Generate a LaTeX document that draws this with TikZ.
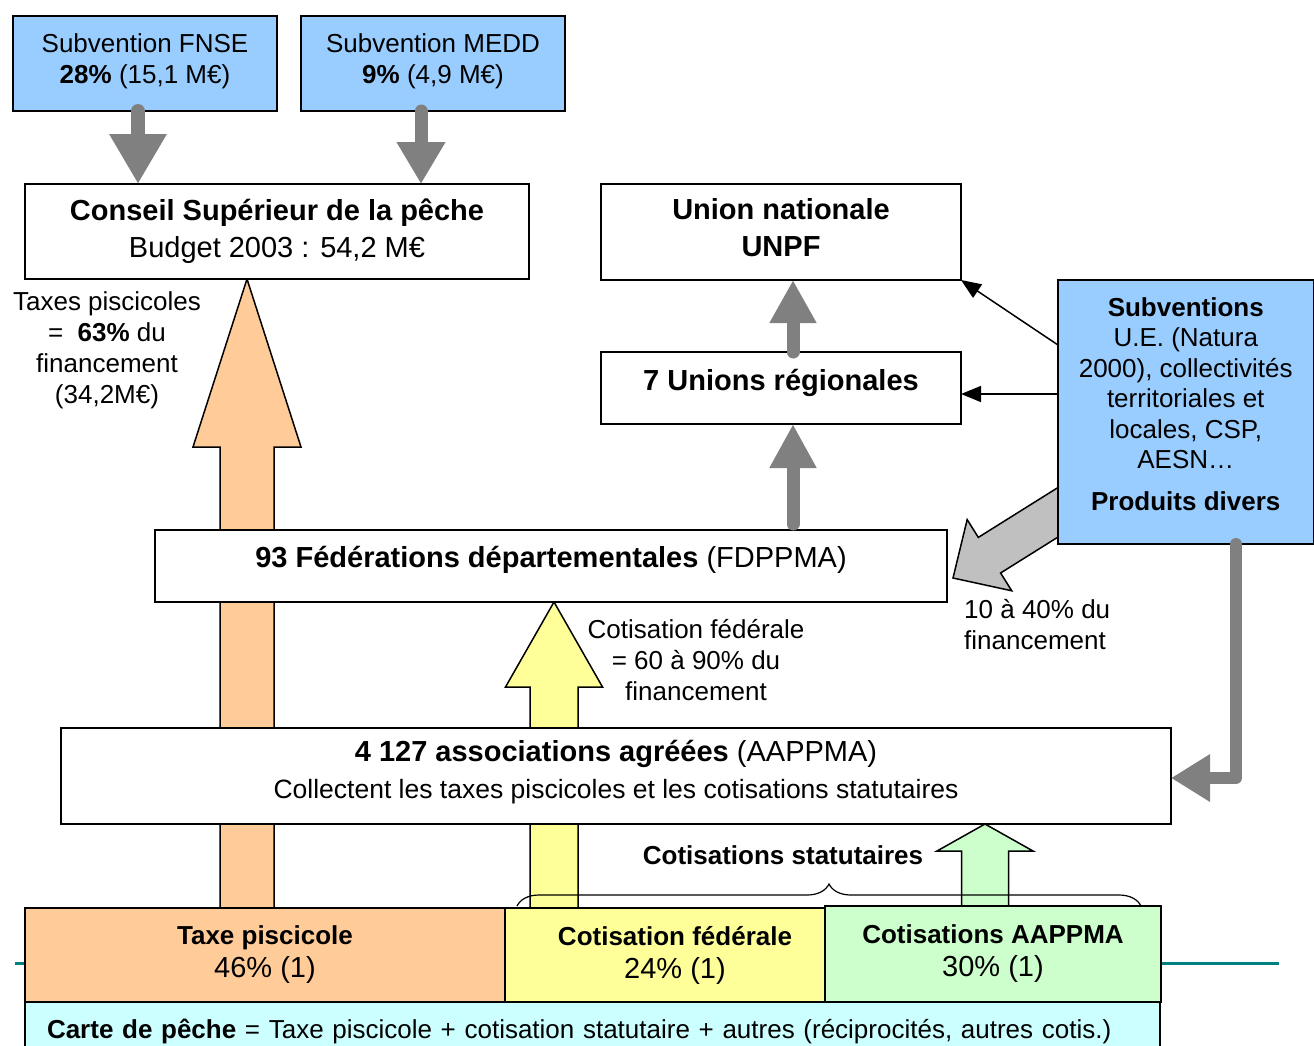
\documentclass[tikz,border=0pt]{standalone}
\usepackage{fontspec}
\setmainfont{Liberation Sans}
\usetikzlibrary{arrows.meta,positioning,calc,backgrounds,decorations.pathreplacing}

\definecolor{subblue}{HTML}{99CCFF}
\definecolor{taxorange}{HTML}{FFCC99}
\definecolor{fedyellow}{HTML}{FFFF99}
\definecolor{aapgreen}{HTML}{CCFFCC}
\definecolor{cartecyan}{HTML}{CCFFFF}
\definecolor{arrowgray}{HTML}{808080}
\definecolor{paleGray}{HTML}{C0C0C0}
\definecolor{tealline}{HTML}{008080}

\newcommand\txtsize{\fontsize{26}{31}\selectfont}
\newcommand\ttlsize{\fontsize{29}{37}\selectfont}

% outlined block arrow: style, from, to, shaft half width, head half width, head length
\newcommand\blockarrow[6]{%
  \coordinate (ba-s) at (#2);
  \coordinate (ba-t) at (#3);
  \coordinate (ba-h) at ($(ba-t)!#6!(ba-s)$);
  \filldraw[#1] ($(ba-s)!#4!90:(ba-t)$) -- ($(ba-h)!#4!90:(ba-t)$)
    -- ($(ba-h)!#5!90:(ba-t)$) -- (ba-t) -- ($(ba-h)!#5!-90:(ba-t)$)
    -- ($(ba-h)!#4!-90:(ba-t)$) -- ($(ba-s)!#4!-90:(ba-t)$) -- cycle;}

\tikzset{
  plainbox/.style={draw, line width=1.5pt, fill=white, align=center,
    inner sep=0pt, outer sep=0pt, font=\txtsize},
  subbox/.style={plainbox, fill=subblue},
  lbl/.style={align=center, inner sep=0pt, font=\txtsize},
  grayarrow/.style={draw=arrowgray, line width=14pt, line cap=round},
  thinarrow/.style={line width=1.5pt, -{Triangle[length=20pt,width=16pt]}},
  blockline/.style={draw=black, line width=1.5pt, line join=miter},
}

\begin{document}
\begin{tikzpicture}[x=1pt,y=-1pt]
\useasboundingbox (0,0) rectangle (1314,1045);

% top
\node[subbox, minimum width=264pt, minimum height=95pt, text depth=10pt] (fnse) at (145,63.5)
  {Subvention FNSE\\\textbf{28\%} (15,1 M€)};
\node[subbox, minimum width=264pt, minimum height=95pt, text depth=10pt] (medd) at (433,63.5)
  {Subvention MEDD\\\textbf{9\%} (4,9 M€)};
\node[plainbox, minimum width=504pt, minimum height=95pt, font=\ttlsize, text depth=6pt] (csp) at (277,231.5)
  {\textbf{Conseil Supérieur de la pêche}\\Budget 2003 : 54,2 M€};
\node[plainbox, minimum width=360pt, minimum height=96pt, font=\ttlsize\bfseries, text depth=10pt] (unpf) at (781,232)
  {Union nationale\\UNPF};
\node[plainbox, minimum width=360pt, minimum height=72pt, font=\ttlsize\bfseries, text depth=16pt] (urs) at (781,388)
  {7 Unions régionales};
\node[subbox, minimum width=255.5pt, minimum height=264pt, font=\fontsize{26}{30.5}\selectfont, text depth=16pt] (subv) at (1185.75,412)
  {\textbf{Subventions}\\U.E. (Natura\\2000), collectivités\\territoriales et\\locales, CSP,\\AESN…\\[11pt]\textbf{Produits divers}};

% middle
\node[plainbox, minimum width=792pt, minimum height=72pt, font=\ttlsize, text depth=18pt] (fdppma) at (551,566)
  {\textbf{93 Fédérations départementales} (FDPPMA)};
\node[plainbox, minimum width=1110pt, minimum height=96pt, font=\ttlsize, text depth=14pt] (aappma) at (616,776)
  {\textbf{4 127 associations agréées} (AAPPMA)\\{\fontsize{26.5}{31}\selectfont Collectent les taxes piscicoles et les cotisations statutaires}};

% bottom
\node[plainbox, fill=taxorange, minimum width=480pt, minimum height=94pt, font=\fontsize{26}{33}\selectfont] (taxe) at (265,955)
  {\textbf{Taxe piscicole}\\{\ttlsize 46\% (1)}};
\node[plainbox, fill=fedyellow, minimum width=320pt, minimum height=94pt, font=\fontsize{26}{33}\selectfont,
  right=0pt of taxe] (cotfed)
  {\hspace*{20pt}\textbf{Cotisation fédérale}\\\hspace*{20pt}{\ttlsize 24\% (1)}};
\node[plainbox, fill=aapgreen, minimum width=336pt, minimum height=96pt, font=\fontsize{26}{33}\selectfont,
  right=0pt of cotfed.south east, anchor=south west] (cotaap)
  {\textbf{Cotisations AAPPMA}\\{\ttlsize 30\% (1)}};
\node[plainbox, fill=cartecyan, text width=1091pt, inner xsep=22pt, align=left, minimum height=58pt,
  below=0pt of taxe.south west, anchor=north west] (carte)
  {\textbf{Carte de pêche} = Taxe piscicole + cotisation statutaire + autres (réciprocités, autres cotis.)};

% labels
\node[lbl] (taxlbl) at (107,350) {Taxes piscicoles\\=\ \ \textbf{63\%} du\\financement\\(34,2M€)};
\node[lbl] (cotlbl) at (696,660) {Cotisation fédérale\\= 60 à 90\% du\\financement};
\node[lbl, align=left, anchor=west] (pctlbl) at (964,625) {10 à 40\% du\\financement};
\node[lbl, font=\txtsize\bfseries] (statlbl) at (783,855) {Cotisations statutaires};

\coordinate (diagtail) at (1072,503.5);
\coordinate (diagtip) at (953,578);
\coordinate (bend) at (1236,778);

% flows behind the boxes
\begin{scope}[on background layer]
  \draw[draw=tealline, line width=3pt] (15,963) -- (1279,963);
  \blockarrow{blockline, fill=taxorange}{taxe.north -| 247,0}{csp.south -| 247,0}{27pt}{54pt}{168pt}
  \blockarrow{blockline, fill=fedyellow}{cotfed.north -| 554,0}{fdppma.south -| 554,0}{24pt}{48.5pt}{85pt}
  \blockarrow{blockline, fill=aapgreen}{cotaap.north -| 985,0}{aappma.south -| 985,0}{23.5pt}{48pt}{27pt}
  \blockarrow{blockline, fill=paleGray}{diagtail}{diagtip}{21pt}{42pt}{43pt}
\end{scope}

\draw[grayarrow, -{Triangle[length=50pt,width=54pt]}] (fnse.south -| 138,0) -- (csp.north -| 138,0);
\draw[grayarrow, line width=13pt, -{Triangle[length=42pt,width=46pt]}] (medd.south -| 421,0) -- (csp.north -| 421,0);
\draw[grayarrow, line width=13pt, -{Triangle[length=43pt,width=44pt]}] (urs.north -| 793,0) -- (unpf.south -| 793,0);
\draw[grayarrow, line width=13pt, shorten <=6pt, -{Triangle[length=44pt,width=44pt]}] (fdppma.north -| 793,0) -- (urs.south -| 793,0);
\draw[grayarrow, line width=12pt, line join=round, -{Triangle[length=39pt,width=45pt]}]
  (subv.south -| bend) -- (bend) -- (aappma.east |- bend);

\draw[thinarrow] (subv.west |- 0,345) -- (unpf.south east);
\draw[thinarrow] (subv.west |- 0,394) -- (urs.east |- 0,394);

\draw[decorate, decoration={brace, amplitude=22pt}, line width=1.2pt] (517,906) -- (1141,906);

\end{tikzpicture}
\end{document}
